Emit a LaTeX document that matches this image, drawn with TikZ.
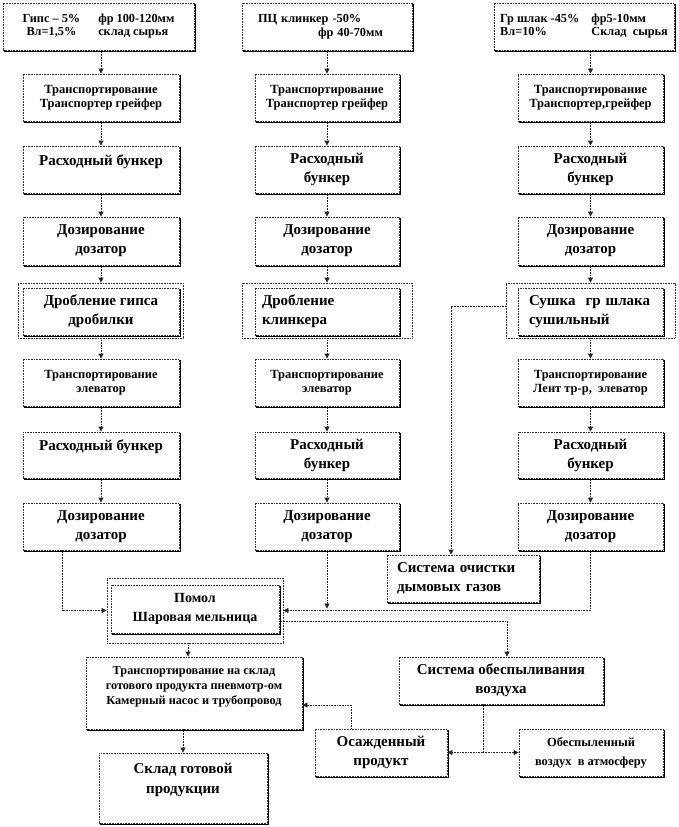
\documentclass[tikz,border=0pt]{standalone}
\usepackage{fontspec}
\setmainfont{Liberation Serif}
\usetikzlibrary{arrows.meta}
\begin{document}
\begin{tikzpicture}[x=1pt,y=-1pt,
  box/.style={draw=black!80, dash pattern=on 0.8pt off 0.8pt, line width=0.8pt, fill=white,
    inner sep=0pt, align=center,
    preaction={draw=black, fill=none, solid, line width=1pt, transform canvas={shift={(1.3pt,-1.3pt)}}}},
  frame/.style={draw=black!80, dash pattern=on 0.8pt off 0.8pt, line width=0.8pt, inner sep=0pt},
  conn/.style={draw=black!85, dash pattern=on 0.8pt off 0.8pt, line width=0.8pt, -{Triangle[length=5pt,width=5pt]}},
  big/.style={font=\fontsize{15}{19}\selectfont\bfseries},
  med/.style={font=\fontsize{14}{19}\selectfont\bfseries},
  sml/.style={font=\fontsize{12.5}{14}\selectfont\bfseries},
  hdr/.style={font=\fontsize{12.3}{13.5}\selectfont\bfseries},
  mid/.style={font=\fontsize{12.3}{15}\selectfont\bfseries}]
\useasboundingbox (0,0) rectangle (678,827);
\fill[white] (0,0) rectangle (678,827);

% frames
\node[frame, minimum width=165, minimum height=55] (dr1f) at (100.5,310.5) {};
\node[frame, minimum width=170, minimum height=55] (dr2f) at (327,310.5) {};
\node[frame, minimum width=169, minimum height=55] (sf) at (590.5,310.5) {};
\node[frame, minimum width=176, minimum height=65] (pf) at (195,610.5) {};

% column 1
\node[box, hdr, minimum width=191, minimum height=47] (g1) at (98.5,26.5)
  {\begin{tabular}{@{}c@{\hspace{18pt}}l@{}}Гипс – 5\% & фр 100-120мм\\ Вл=1,5\% & склад сырья\end{tabular}};
\node[box, sml, minimum width=156, minimum height=47] (t1) at (101,97.5) {Транспортирование\\Транспортер грейфер};
\node[box, big, minimum width=156, minimum height=47] (r1) at (101,169.5) {Расходный бункер\\~};
\node[box, big, minimum width=156, minimum height=48] (d1) at (101,241) {Дозирование\\дозатор};
\node[box, big, minimum width=156, minimum height=47] (dr1) at (101,311.5) {Дробление гипса\\дробилки};
\node[box, sml, minimum width=156, minimum height=47] (e1) at (101,382.5) {Транспортирование\\элеватор};
\node[box, big, minimum width=156, minimum height=46] (rb1) at (101,455) {Расходный бункер\\~};
\node[box, big, minimum width=156, minimum height=47] (db1) at (101,526.5) {Дозирование\\дозатор};

% column 2
\node[box, hdr, minimum width=170, minimum height=47, align=left, text width=138] (g2) at (327,26.5)
  {ПЦ клинкер -50\%\\\hspace*{60pt}фр 40-70мм};
\node[box, sml, minimum width=144, minimum height=47] (t2) at (327,97.5) {Транспортирование\\Транспортер грейфер};
\node[box, big, minimum width=144, minimum height=47] (r2) at (327,169.5) {Расходный\\бункер};
\node[box, big, minimum width=144, minimum height=48] (d2) at (327,241) {Дозирование\\дозатор};
\node[box, big, minimum width=144, minimum height=47, align=left, text width=130] (dr2) at (327,311.5) {Дробление\\клинкера};
\node[box, sml, minimum width=144, minimum height=47] (e2) at (327,382.5) {Транспортирование\\элеватор};
\node[box, big, minimum width=144, minimum height=46] (rb2) at (327,455) {Расходный\\бункер};
\node[box, big, minimum width=144, minimum height=47] (db2) at (327,526.5) {Дозирование\\дозатор};

% column 3
\node[box, hdr, minimum width=180, minimum height=47] (g3) at (584,26.5)
  {\begin{tabular}{@{}l@{\hspace{12pt}}l@{}}Гр шлак -45\% & фр5-10мм\\ Вл=10\% & Склад~ сырья\end{tabular}};
\node[box, sml, minimum width=145, minimum height=47] (t3) at (590.5,97.5) {Транспортирование\\Транспортер,грейфер};
\node[box, big, minimum width=145, minimum height=47] (r3) at (590.5,169.5) {Расходный\\бункер};
\node[box, big, minimum width=145, minimum height=48] (d3) at (590.5,241) {Дозирование\\дозатор};
\node[box, big, minimum width=145, minimum height=47, align=left, text width=123] (su) at (590.5,311.5) {Сушка~ гр шлака\\сушильный};
\node[box, sml, minimum width=145, minimum height=47] (e3) at (590.5,382.5) {Транспортирование\\Лент тр-р,~ элеватор};
\node[box, big, minimum width=145, minimum height=46] (rb3) at (590.5,455) {Расходный\\бункер};
\node[box, big, minimum width=145, minimum height=47] (db3) at (590.5,526.5) {Дозирование\\дозатор};

% lower part
\node[box, big, minimum width=152, minimum height=47, align=left, text width=132] (oc) at (463,578.5) {Система очистки\\дымовых газов};
\node[box, med, minimum width=168, minimum height=48] (pm) at (195,609) {Помол\\Шаровая мельница};
\node[box, mid, minimum width=216, minimum height=72] (ts) at (194,693)
  {Транспортирование на склад\\готового продукта пневмотр-ом\\Камерный насос и трубопровод\\~};
\node[box, big, minimum width=204, minimum height=47] (ob) at (501,680.5) {Система обеспыливания\\воздуха};
\node[box, big, minimum width=132, minimum height=47] (os) at (381,752.5) {Осажденный\\продукт};
\node[box, font=\fontsize{12.5}{19}\selectfont\bfseries, minimum width=144, minimum height=47] (ae) at (591,752.5) {Обеспыленный\\воздух~ в атмосферу};
\node[box, font=\fontsize{15}{20}\selectfont\bfseries, minimum width=168, minimum height=70] (sk) at (183,788) {Склад готовой\\продукции\\~};

% connectors column 1
\draw[conn] (t1.north |- g1.south) -- (t1.north);
\draw[conn] (t1.south) -- (r1.north);
\draw[conn] (r1.south) -- (d1.north);
\draw[conn] (d1.south) -- (d1.south |- dr1f.north);
\draw[conn] (e1.north |- dr1f.south) -- (e1.north);
\draw[conn] (e1.south) -- (rb1.north);
\draw[conn] (rb1.south) -- (db1.north);
\draw[conn] ([xshift=-39pt]db1.south) |- (pf.west);

% connectors column 2
\draw[conn] (g2.south) -- (t2.north);
\draw[conn] (t2.south) -- (r2.north);
\draw[conn] (r2.south) -- (d2.north);
\draw[conn] (d2.south) -- (dr2f.north);
\draw[conn] (dr2f.south) -- (e2.north);
\draw[conn] (e2.south) -- (rb2.north);
\draw[conn] (rb2.south) -- (db2.north);
\draw[conn] (db2.south) -- ([yshift=2pt]db2.south |- pf.west);

% connectors column 3
\draw[conn] (t3.north |- g3.south) -- (t3.north);
\draw[conn] (t3.south) -- (r3.north);
\draw[conn] (r3.south) -- (d3.north);
\draw[conn] (d3.south) -- (sf.north);
\draw[conn] (sf.south) -- (e3.north);
\draw[conn] (e3.south) -- (rb3.north);
\draw[conn] (rb3.south) -- (db3.north);
\draw[conn] (db3.south) |- (pf.east);

% drying -> gas cleaning
\draw[conn] ([yshift=4pt]sf.west) -| ([xshift=-12pt]oc.north);

% mill outputs
\draw[conn] ([yshift=-12pt]pm.east) -| ([xshift=6pt]ob.north);
\draw[conn] ([xshift=-7pt]pf.south) -- ([xshift=-7pt]pf.south |- ts.north);
\draw[conn] (sk.north |- ts.south) -- (sk.north);

% dedusting
\draw[conn] ([xshift=-18pt]ob.south) |- (os.east);
\draw[conn] ([xshift=-18pt]ob.south) |- (ae.west);
\draw[conn] ([xshift=-30pt]os.north) |- ([yshift=-12pt]ts.east);
\end{tikzpicture}
\end{document}
